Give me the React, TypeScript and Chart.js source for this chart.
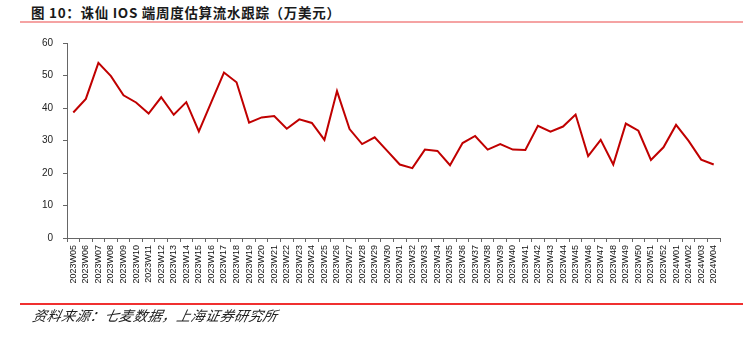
import React, { useEffect, useRef } from "react";
import { Chart, registerables } from "chart.js";

Chart.register(...registerables);

const weeks2023: string[] = [
  "2023W05","2023W06","2023W07","2023W08","2023W09","2023W10","2023W11","2023W12",
  "2023W13","2023W14","2023W15","2023W16","2023W17","2023W18","2023W19","2023W20",
  "2023W21","2023W22","2023W23","2023W24","2023W25","2023W26","2023W27","2023W28",
  "2023W29","2023W30","2023W31","2023W32","2023W33","2023W34","2023W35","2023W36",
  "2023W37","2023W38","2023W39","2023W40","2023W41","2023W42","2023W43","2023W44",
  "2023W45","2023W46","2023W47","2023W48","2023W49","2023W50","2023W51","2023W52",
];
const weeks2024: string[] = ["2024W01", "2024W02", "2024W03", "2024W04"];
const categories: string[] = [...weeks2023, ...weeks2024];

const revenue: number[] = [
  38.6, 42.8, 53.9, 49.8, 43.9, 41.7, 38.3, 43.3,
  37.9, 41.8, 32.8, 41.9, 50.9, 47.9, 35.5, 37.1,
  37.5, 33.6, 36.5, 35.4, 30.2, 45.2, 33.5, 28.9,
  31.0, 26.8, 22.6, 21.5, 27.2, 26.8, 22.4, 29.2,
  31.4, 27.2, 28.9, 27.2, 27.1, 34.5, 32.7, 34.3,
  38.0, 25.2, 30.2, 22.6, 35.2, 33.0, 24.0, 27.9,
  34.8, 29.9, 24.1, 22.6,
];

const yTicks: number[] = [0, 10, 20, 30, 40, 50, 60];

const title = "图 10：诛仙 IOS 端周度估算流水跟踪（万美元）";
const source = "资料来源：七麦数据，上海证券研究所";

export default function App() {
  const canvasRef = useRef<HTMLCanvasElement | null>(null);

  useEffect(() => {
    if (!canvasRef.current) return;
    const chart = new Chart(canvasRef.current, {
      type: "line",
      data: {
        labels: categories,
        datasets: [
          {
            data: revenue,
            borderColor: "#C00000",
            borderWidth: 2,
            pointRadius: 0,
            tension: 0,
            fill: false,
          },
        ],
      },
      options: {
        animation: false,
        responsive: false,
        maintainAspectRatio: false,
        layout: { padding: { left: 0, top: 43, right: 33, bottom: 0 } },
        plugins: { legend: { display: false }, tooltip: { enabled: false } },
        scales: {
          x: {
            offset: true,
            grid: {
              offset: true,
              drawOnChartArea: false,
              drawTicks: true,
              tickLength: 4,
              color: "#666",
            },
            border: { display: true, color: "#666", width: 1 },
            ticks: {
              autoSkip: false,
              minRotation: 90,
              maxRotation: 90,
              padding: 3,
              color: "#111",
              font: { family: "'Liberation Sans', Arial, sans-serif", size: 9 },
            },
            afterFit: (scale: any) => {
              scale.height = 99;
            },
          },
          y: {
            min: 0,
            max: 60,
            afterBuildTicks: (scale: any) => {
              scale.ticks = yTicks.map((v) => ({ value: v }));
            },
            grid: {
              drawOnChartArea: false,
              drawTicks: true,
              tickLength: 4,
              color: "#666",
            },
            border: { display: true, color: "#666", width: 1 },
            ticks: {
              padding: 10,
              color: "#222",
              font: { family: "'Liberation Sans', Arial, sans-serif", size: 10 },
            },
            afterFit: (scale: any) => {
              scale.width = 67;
            },
          },
        },
      },
    });
    return () => chart.destroy();
  }, []);

  return (
    <div
      style={{
        position: "fixed",
        left: 0,
        top: 0,
        width: 753,
        height: 337,
        background: "#fff",
        overflow: "hidden",
      }}
    >
      <div
        style={{
          position: "absolute",
          left: 31,
          top: 3,
          fontFamily: "'Noto Sans CJK SC', sans-serif",
          fontWeight: 700,
          fontSize: 13.5,
          letterSpacing: "0.7px",
          color: "#1a1a1a",
          whiteSpace: "nowrap",
          lineHeight: "18px",
        }}
      >
        {title}
      </div>
      <div
        style={{
          position: "absolute",
          left: 20,
          top: 21,
          width: 723,
          height: 2,
          background: "#f5a3a3",
        }}
      />
      <canvas
        ref={canvasRef}
        width={753}
        height={337}
        style={{ position: "absolute", left: 0, top: 0 }}
      />
      <div
        style={{
          position: "absolute",
          left: 20,
          top: 303,
          width: 723,
          height: 2,
          background: "#f03030",
        }}
      />
      <div
        style={{
          position: "absolute",
          left: 33,
          top: 306,
          fontFamily: "'Noto Sans CJK SC', sans-serif",
          fontStyle: "italic",
          fontSize: 14,
          letterSpacing: "0.4px",
          color: "#222",
          whiteSpace: "nowrap",
          lineHeight: "18px",
          transform: "skewX(-12deg)",
        }}
      >
        {source}
      </div>
    </div>
  );
}
